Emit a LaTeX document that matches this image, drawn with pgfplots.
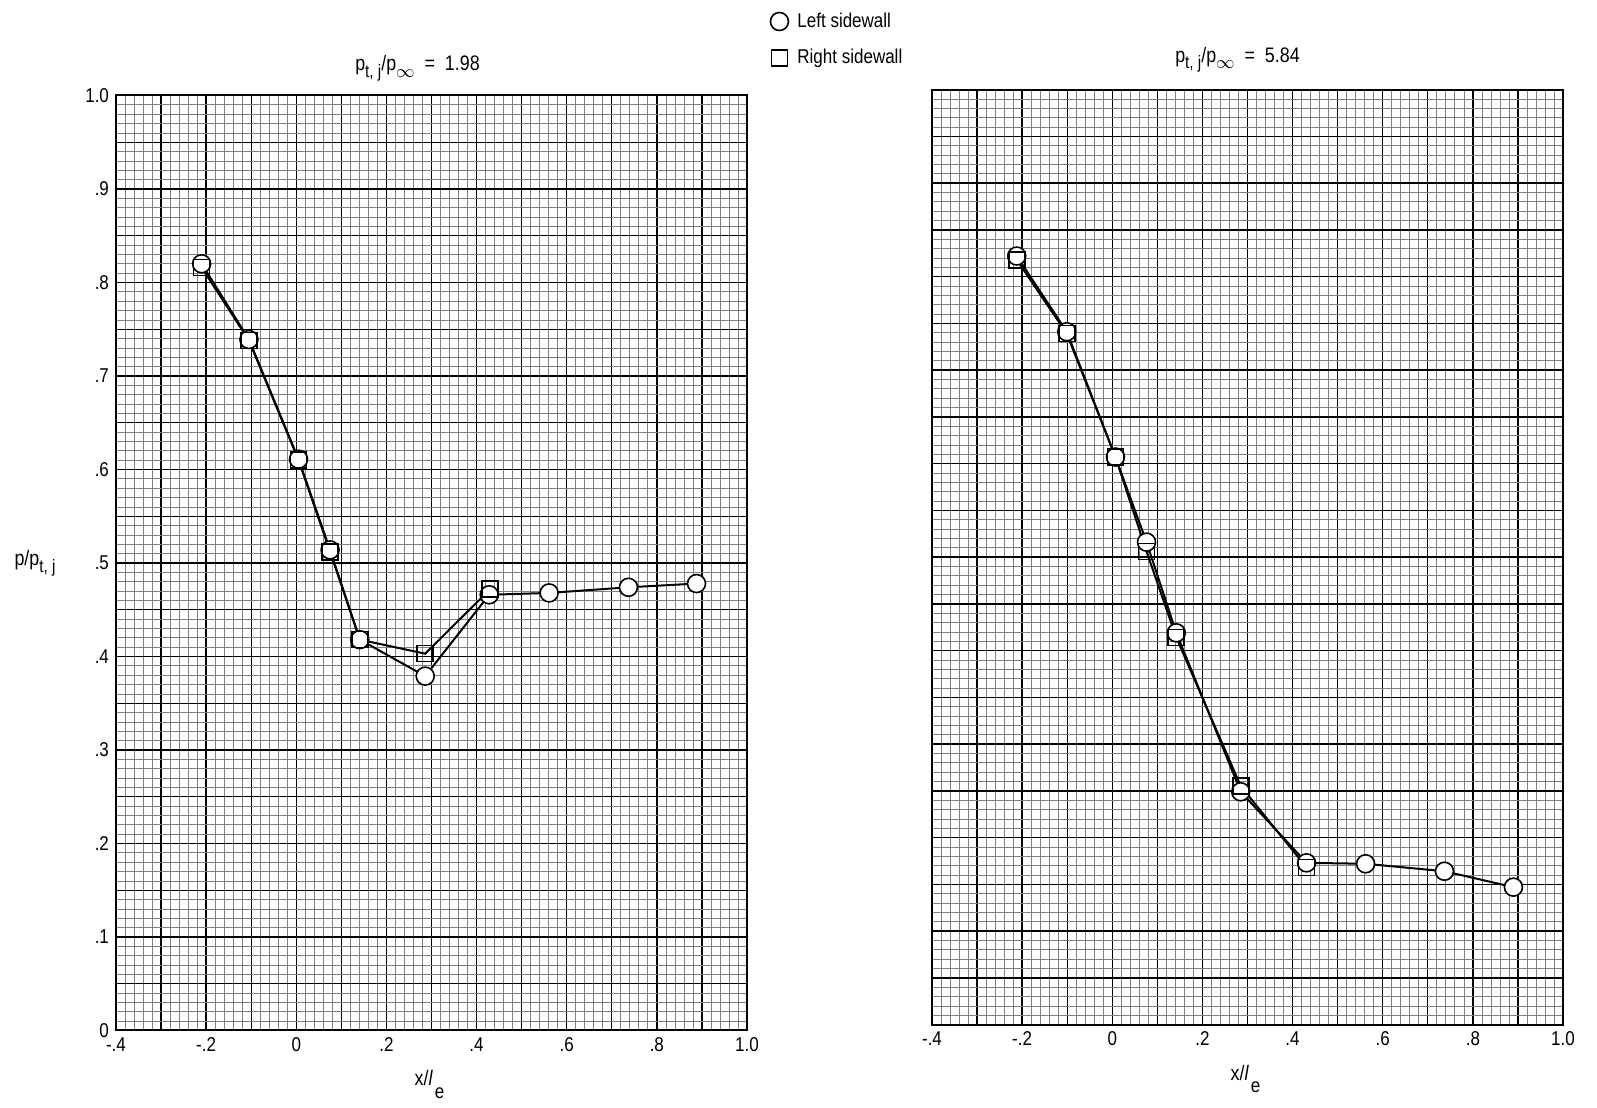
\documentclass[border=0pt]{standalone}
\usepackage{fontspec}
\setmainfont[FakeStretch=0.85]{Liberation Sans}
\usepackage{pgfplots}
\pgfplotsset{compat=1.18}
\newcommand{\sub}[1]{\raisebox{-0.6ex}{\fontsize{9}{10}\selectfont #1}}

\pgfplotstableread{
x y
-0.210 0.820
-0.105 0.739
0.005 0.611
0.075 0.514
0.141 0.418
0.286 0.379
0.428 0.466
0.561 0.468
0.737 0.474
0.888 0.478
}\leftL
\pgfplotstableread{
x y
-0.210 0.816
-0.105 0.738
0.005 0.610
0.075 0.512
0.141 0.418
0.286 0.403
0.430 0.472
}\leftR
\pgfplotstableread{
x y
-0.212 0.822
-0.101 0.741
0.007 0.607
0.076 0.516
0.142 0.419
0.285 0.249
0.431 0.173
0.562 0.172
0.737 0.164
0.890 0.147
}\rightL
\pgfplotstableread{
x y
-0.212 0.818
-0.101 0.739
0.007 0.607
0.076 0.506
0.142 0.414
0.285 0.255
0.431 0.168
}\rightR

\pgfplotsset{
  paper/.style={
    scale only axis, width=315.5pt, height=467.5pt,
    xmin=-0.4, xmax=1.0, ymin=0, ymax=1.0,
    xtick={-0.4,-0.3,-0.2,-0.1,0,0.1,0.2,0.3,0.4,0.5,0.6,0.7,0.8,0.9,1.0},
    xticklabels={-.4,,-.2,,0,,.2,,.4,,.6,,.8,,1.0},
    ytick={0,0.05,0.1,0.15,0.2,0.25,0.3,0.35,0.4,0.45,0.5,0.55,0.6,0.65,0.7,0.75,0.8,0.85,0.9,0.95,1.0},
    minor x tick num=4, minor y tick num=4,
    grid=both,
    major grid style={black, line width=0.7pt},
    minor grid style={black!50, line width=0.35pt},
    axis line style={line width=1pt},
    major tick length=0pt, minor tick length=0pt,
    tick label style={font=\fontsize{10}{11}\selectfont},
    every axis x label/.style={at={(rel axis cs:0.5,0)}, anchor=center, yshift=-27pt, xshift=-1pt, font=\fontsize{10.5}{12}\selectfont},
    every axis title/.style={at={(rel axis cs:0.5,1)}, anchor=center, yshift=15pt, font=\fontsize{10.5}{12}\selectfont},
    xlabel={x/\textit{l}\hspace{1pt}\raisebox{-1.1ex}{\fontsize{10}{11}\selectfont e}},
  },
  linestyle/.style={black, line width=1pt, no marks, forget plot},
  circ/.style={only marks, mark=*, mark size=4.5pt, mark options={fill=white, draw=black, line width=0.8pt}},
  sq/.style={only marks, mark=square, mark size=4pt, mark options={draw=black, line width=0.8pt}},
}

\begin{document}
\begin{tikzpicture}
\useasboundingbox (0,0) rectangle (798.5pt,554pt);
\begin{axis}[paper,
  at={(58pt,38.75pt)}, anchor=south west,
  yticklabels={0,,.1,,.2,,.3,,.4,,.5,,.6,,.7,,.8,,.9,,1.0},
  title={p\sub{t, j}/p\sub{$\infty$}\ \ =\ \ 1.98},
  title style={xshift=-7pt, yshift=-1.5pt},
  every axis y label/.style={at={(rel axis cs:0,0.5)}, anchor=center, xshift=-40.5pt, font=\fontsize{10.5}{12}\selectfont},
  ylabel={p/p\sub{t, j}},
  legend style={draw=none, fill=none, inner sep=0pt, at={(axis description cs:1.0365,1.0932)}, anchor=north west, row sep=5.5pt, font=\fontsize{10}{11}\selectfont},
  legend cell align=left,
]
\addlegendimage{circ}
\addlegendentry{\hspace{2.5pt}Left sidewall}
\addlegendimage{sq}
\addlegendentry{\hspace{2.5pt}Right sidewall}
\addplot[linestyle] table {\leftL};
\addplot[linestyle] table {\leftR};
\addplot[circ, forget plot] table {\leftL};
\addplot[sq, forget plot] table {\leftR};
\end{axis}
\begin{axis}[paper,
  at={(466pt,41.7pt)}, anchor=south west,
  yticklabels={},
  title={p\sub{t, j}/p\sub{$\infty$}\ \ =\ \ 5.84},
  title style={xshift=-5pt},
]
\addplot[linestyle] table {\rightL};
\addplot[linestyle] table {\rightR};
\addplot[circ, forget plot] table {\rightL};
\addplot[sq, forget plot] table {\rightR};
\end{axis}
\end{tikzpicture}
\end{document}
